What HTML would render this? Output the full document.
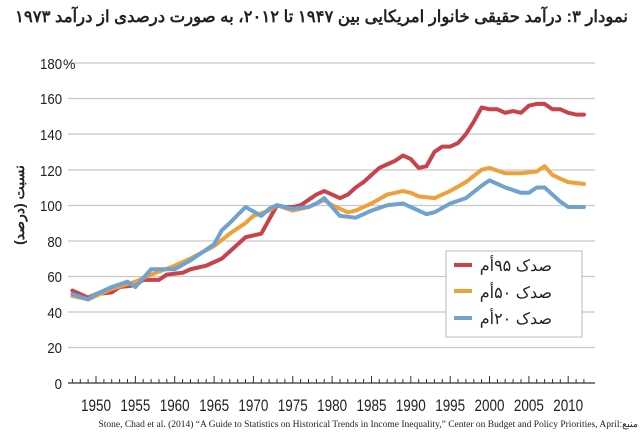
<!DOCTYPE html>
<html><head><meta charset="utf-8"><style>
body{margin:0;background:#fff;width:640px;height:441px;overflow:hidden;position:relative}
svg{display:block;position:absolute;left:0;top:0}
.t{position:absolute;font-family:'Liberation Sans','Noto Sans CJK SC',sans-serif;color:#222;white-space:nowrap;direction:rtl}
</style></head><body>
<svg width="640" height="441" viewBox="0 0 640 441" xmlns="http://www.w3.org/2000/svg">
<g stroke="#c8c8c8" stroke-width="1.2">
<line x1="68" x2="595" y1="63" y2="63"/><line x1="68" x2="595" y1="98.5" y2="98.5"/><line x1="68" x2="595" y1="134" y2="134"/><line x1="68" x2="595" y1="170" y2="170"/><line x1="68" x2="595" y1="205.5" y2="205.5"/><line x1="68" x2="595" y1="241" y2="241"/><line x1="68" x2="595" y1="276.5" y2="276.5"/><line x1="68" x2="595" y1="312" y2="312"/><line x1="68" x2="595" y1="347.5" y2="347.5"/>
</g>
<g font-family="'Liberation Sans',sans-serif" font-size="15" fill="#222" text-anchor="end" transform="scale(0.88,1)">
<text x="70.5" y="69">180</text><text x="70.5" y="104">160</text><text x="70.5" y="140">140</text><text x="70.5" y="176">120</text><text x="70.5" y="211">100</text><text x="70.5" y="247">80</text><text x="70.5" y="282">60</text><text x="70.5" y="318">40</text><text x="70.5" y="353">20</text><text x="70.5" y="389">0</text>
</g>
<text x="63" y="69" font-family="'Liberation Sans',sans-serif" font-size="14" fill="#222">%</text>
<text transform="translate(24,205) rotate(-90)" text-anchor="middle" font-family="'Liberation Sans','Noto Sans CJK SC',sans-serif" font-size="14" font-weight="bold" fill="#222">نسبت (درصد)</text>
<line x1="68" x2="595" y1="383" y2="383" stroke="#333" stroke-width="1.3"/>
<g stroke="#333" stroke-width="1">
<path d="M72.4 383v-4M80.3 383v-4M88.1 383v-4M96 383v-7M103.9 383v-4M111.7 383v-4M119.6 383v-4M127.5 383v-4M135.4 383v-7M143.2 383v-4M151.1 383v-4M159 383v-4M166.8 383v-4M174.7 383v-7M182.6 383v-4M190.4 383v-4M198.3 383v-4M206.2 383v-4M214.1 383v-7M221.9 383v-4M229.8 383v-4M237.7 383v-4M245.5 383v-4M253.4 383v-7M261.3 383v-4M269.1 383v-4M277 383v-4M284.9 383v-4M292.8 383v-7M300.6 383v-4M308.5 383v-4M316.4 383v-4M324.2 383v-4M332.1 383v-7M340 383v-4M347.8 383v-4M355.7 383v-4M363.6 383v-4M371.5 383v-7M379.3 383v-4M387.2 383v-4M395.1 383v-4M402.9 383v-4M410.8 383v-7M418.7 383v-4M426.5 383v-4M434.4 383v-4M442.3 383v-4M450.2 383v-7M458 383v-4M465.9 383v-4M473.8 383v-4M481.6 383v-4M489.5 383v-7M497.4 383v-4M505.2 383v-4M513.1 383v-4M521 383v-4M528.9 383v-7M536.7 383v-4M544.6 383v-4M552.5 383v-4M560.3 383v-4M568.2 383v-7M576.1 383v-4M583.9 383v-4"/>
</g>
<g font-family="'Liberation Sans',sans-serif" font-size="17" fill="#222" text-anchor="middle">
<text x="96" y="411" textLength="30" lengthAdjust="spacingAndGlyphs">1950</text><text x="135.4" y="411" textLength="30" lengthAdjust="spacingAndGlyphs">1955</text><text x="174.7" y="411" textLength="30" lengthAdjust="spacingAndGlyphs">1960</text><text x="214.1" y="411" textLength="30" lengthAdjust="spacingAndGlyphs">1965</text><text x="253.4" y="411" textLength="30" lengthAdjust="spacingAndGlyphs">1970</text><text x="292.8" y="411" textLength="30" lengthAdjust="spacingAndGlyphs">1975</text><text x="332.1" y="411" textLength="30" lengthAdjust="spacingAndGlyphs">1980</text><text x="371.5" y="411" textLength="30" lengthAdjust="spacingAndGlyphs">1985</text><text x="410.8" y="411" textLength="30" lengthAdjust="spacingAndGlyphs">1990</text><text x="450.2" y="411" textLength="30" lengthAdjust="spacingAndGlyphs">1995</text><text x="489.5" y="411" textLength="30" lengthAdjust="spacingAndGlyphs">2000</text><text x="528.9" y="411" textLength="30" lengthAdjust="spacingAndGlyphs">2005</text><text x="568.2" y="411" textLength="30" lengthAdjust="spacingAndGlyphs">2010</text>
</g>
<g transform="translate(96,383) scale(7.87,-1.7775)" fill="none" stroke-linejoin="round" stroke-linecap="round">
<polyline vector-effect="non-scaling-stroke" stroke="#c9414b" stroke-width="4" points="-3,52 -2,50 -1,48 0,50 2,51 3,54 5,55 6,58 8,58 9,61 11,62 12,64 14,66 15,68 16,70 17,74 18,78 19,82 20,83 21,84 22,92 23,100 24,99 25,99 26,100 27,103 28,106 29,108 30,106 31,104 32,106 33,110 34,113 35,117 36,121 37,123 38,125 39,128 40,126 41,121 42,122 43,130 44,133 45,133 46,135 47,140 48,147 49,155 50,154 51,154 52,152 53,153 54,152 55,156 56,157 57,157 58,154 59,154 60,152 61,151 62,151"/>
<polyline vector-effect="non-scaling-stroke" stroke="#eea03a" stroke-width="4" points="-3,49 -1,47 0,49 2,53 5,57 7,61 10,66 12,70 15,77 17,84 19,90 20,94 22,97 23,100 25,97 27,99 29,103 30,100 32,96 33,97 35,101 37,106 39,108 40,107 41,105 43,104 44,106 45,108 47,113 49,120 50,121 52,118 54,118 56,119 57,122 58,117 60,113 62,112"/>
<polyline vector-effect="non-scaling-stroke" stroke="#6ea3cf" stroke-width="4" points="-3,50 -1,47 0,50 2,54 4,57 5,54 7,64 10,64 12,69 15,78 16,86 17,90 19,99 21,94 22,98 23,100 25,98 27,99 28,101 29,104 30,99 31,94 33,93 35,97 37,100 39,101 40,99 42,95 43,96 45,101 47,104 49,111 50,114 52,110 54,107 55,107 56,110 57,110 59,102 60,99 62,99"/>
</g>
<rect x="446" y="251" width="136" height="86" fill="#fff" stroke="#bbb" stroke-width="1"/>
<line x1="454" x2="472" y1="265" y2="265" stroke="#c9414b" stroke-width="4"/>
<line x1="454" x2="472" y1="291" y2="291" stroke="#eea03a" stroke-width="4"/>
<line x1="454" x2="472" y1="318" y2="318" stroke="#6ea3cf" stroke-width="4"/>
</svg>
<div class="t" style="right:12px;top:7px;font-size:16.5px;font-weight:bold">نمودار ۳: درآمد حقیقی خانوار امریکایی بین ۱۹۴۷ تا ۲۰۱۲، به صورت درصدی از درآمد ۱۹۷۳</div>
<div class="t" style="left:476px;top:254px;font-size:16px;line-height:26.5px;direction:rtl;width:76px;text-align:right">صدک ۹۵أم<br>صدک ۵۰أم<br>صدک ۲۰أم</div>
<div style="position:absolute;right:2px;top:419px;font-family:'Liberation Serif',serif;font-size:9.5px;color:#222;white-space:nowrap">Stone, Chad et al. (2014) “A Guide to Statistics on Historical Trends in Income Inequality,” Center on Budget and Policy Priorities, April<span style="font-family:'Liberation Sans','Noto Sans CJK SC',sans-serif">:منبع</span></div>
</body></html>
